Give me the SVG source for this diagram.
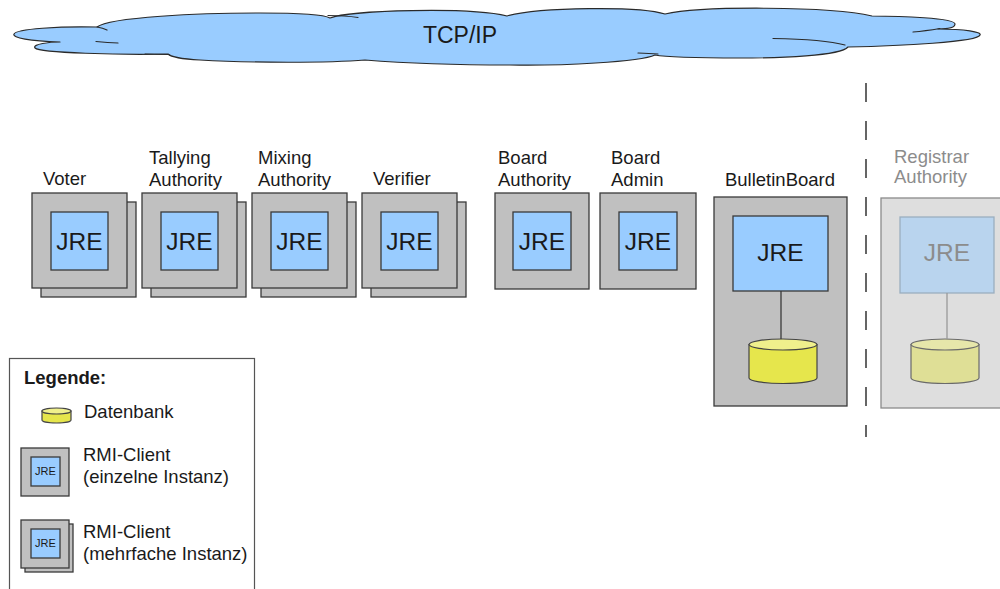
<svg xmlns="http://www.w3.org/2000/svg" width="1000" height="589" viewBox="0 0 1000 589">
  <style>
    text { font-family: "Liberation Sans", Arial, sans-serif; fill: #1a1a1a; }
    .lbl { font-size: 18.5px; }
    .jre { font-size: 24.5px; text-anchor: middle; }
    .jre-s { font-size: 11px; text-anchor: middle; }
    .host { fill: #c0c0c0; stroke: #3a3a3a; stroke-width: 1.3; }
    .vm { fill: #99ccff; stroke: #3a3a3a; stroke-width: 1.3; }
    .db-body { fill: #e6e64c; stroke: #444; stroke-width: 1.2; }
    .db-top { fill: #f0f08c; stroke: #444; stroke-width: 1.2; }
    .link { stroke: #3a3a3a; stroke-width: 1.3; fill: none; }
    .off .host { fill: #dedede; stroke: #8a8a8a; }
    .off .vm { fill: #b9d4ee; stroke: #9aaebf; }
    .off .db-body { fill: #dfdf96; stroke: #6a6a6a; }
    .off .db-top { fill: #e6e6aa; stroke: #6a6a6a; }
    .off text { fill: #8c8c8c; }
    .cloud { fill: #99ccff; stroke: #2a2a2a; stroke-width: 1.2; stroke-linejoin: round; }
    .cloud-seam { fill: none; stroke: #2a2a2a; stroke-width: 1.2; stroke-linecap: round; }
  </style>

  <!-- network cloud -->
  <g id="tcpip">
    <path class="cloud" d="M97,27
      C110,17 200,13 260,13 C300,13 325,15 330,18
      C350,10 470,7 507,16
      C540,7 640,6 665,14
      C700,6 830,6 872,16
      C900,16 955,18 955,24 C955,28 946,29 938,29
      C965,29 982,32 980,35 C978,42 900,46 848,47
      C840,56 780,58 740,58 C700,58 665,57 655,55
      C640,62 560,66 510,65 C440,65 390,62 365,60
      C330,63 250,63 200,60 C180,59 170,56 168,54
      C120,55 40,53 35,48 C32,44 50,42 60,42
      C30,41 12,38 14,34 C16,29 60,26 97,27 Z"/>
    <path class="cloud-seam" d="M97,27 Q103,28 107,30
      M96,41.5 Q108,42.5 118,43
      M145,54 Q158,54 169,54.5
      M328,15.5 Q345,15.5 358,17.5
      M913,32 Q925,31 940,28.5
      M773,38.5 C800,39 830,41 845,45
      M638,53 Q650,53.2 658,54"/>
    <text x="460" y="43" text-anchor="middle" style="font-size:23px">TCP/IP</text>
  </g>

  <!-- multi-instance clients -->
  <g id="voter">
    <rect class="host" x="41" y="202" width="95" height="95"/>
    <rect class="host" x="32" y="193" width="95" height="95"/>
    <rect class="vm" x="51" y="212" width="57" height="58"/>
    <text class="jre" x="79.5" y="250">JRE</text>
    <text class="lbl" x="43" y="185">Voter</text>
  </g>
  <g id="tallying-authority">
    <rect class="host" x="151" y="202" width="95" height="95"/>
    <rect class="host" x="142" y="193" width="95" height="95"/>
    <rect class="vm" x="161" y="212" width="57" height="58"/>
    <text class="jre" x="189.5" y="250">JRE</text>
    <text class="lbl" x="149" y="164">Tallying</text>
    <text class="lbl" x="149" y="186">Authority</text>
  </g>
  <g id="mixing-authority">
    <rect class="host" x="261" y="202" width="95" height="95"/>
    <rect class="host" x="252" y="193" width="95" height="95"/>
    <rect class="vm" x="271" y="212" width="57" height="58"/>
    <text class="jre" x="299.5" y="250">JRE</text>
    <text class="lbl" x="258" y="164">Mixing</text>
    <text class="lbl" x="258" y="186">Authority</text>
  </g>
  <g id="verifier">
    <rect class="host" x="371" y="202" width="95" height="95"/>
    <rect class="host" x="362" y="193" width="95" height="95"/>
    <rect class="vm" x="381" y="212" width="57" height="58"/>
    <text class="jre" x="409.5" y="250">JRE</text>
    <text class="lbl" x="373" y="185">Verifier</text>
  </g>

  <!-- single-instance clients -->
  <g id="board-authority">
    <rect class="host" x="495" y="193" width="94" height="96"/>
    <rect class="vm" x="513" y="212" width="58" height="58"/>
    <text class="jre" x="542" y="250">JRE</text>
    <text class="lbl" x="498" y="164">Board</text>
    <text class="lbl" x="498" y="186">Authority</text>
  </g>
  <g id="board-admin">
    <rect class="host" x="600" y="193" width="96" height="96"/>
    <rect class="vm" x="619" y="212" width="58" height="58"/>
    <text class="jre" x="648" y="250">JRE</text>
    <text class="lbl" x="611" y="164">Board</text>
    <text class="lbl" x="611" y="186">Admin</text>
  </g>

  <!-- server with database -->
  <g id="bulletin-board">
    <rect class="host" x="714" y="197" width="133" height="209"/>
    <rect class="vm" x="733" y="216" width="95" height="75"/>
    <text class="jre" x="780.5" y="261">JRE</text>
    <path class="db-body" d="M749,344.5 V378 A34,5.5 0 0 0 817,378 V344.5 Z"/>
    <ellipse class="db-top" cx="783" cy="344.5" rx="34" ry="5.5"/>
    <text class="lbl" x="780" y="186" text-anchor="middle">BulletinBoard</text>
  </g>

  <!-- separator between system and registrar -->
  <line x1="866" y1="83" x2="866" y2="437" stroke="#333" stroke-width="1.5" stroke-dasharray="19 19"/>

  <g id="registrar-authority" class="off">
    <rect class="host" x="881" y="198" width="130" height="210"/>
    <rect class="vm" x="900" y="217" width="94" height="76"/>
    <text class="jre" x="947" y="261">JRE</text>
    <path class="db-body" d="M911,344.5 V378 A34,5.5 0 0 0 979,378 V344.5 Z"/>
    <ellipse class="db-top" cx="945" cy="344.5" rx="34" ry="5.5"/>
    <text class="lbl" x="894" y="163">Registrar</text>
    <text class="lbl" x="894" y="183">Authority</text>
  </g>

  <!-- connectors -->
  <g id="connectors">
    <line class="link" x1="781" y1="291" x2="781" y2="339"/>
    <line class="link" x1="947" y1="293" x2="947" y2="339" style="stroke:#999"/>
  </g>

  <!-- legend -->
  <g id="legend">
    <rect x="9.5" y="358.5" width="245" height="240" fill="#fff" stroke="#555" stroke-width="1.2"/>
    <text x="24" y="384" style="font-size:18.5px;font-weight:bold">Legende:</text>
    <path class="db-body" d="M42,411 V420 A14.5,3 0 0 0 71,420 V411 Z"/>
    <ellipse class="db-top" cx="56.5" cy="411" rx="14.5" ry="3"/>
    <text class="lbl" x="84" y="418">Datenbank</text>

    <rect class="host" x="21" y="448" width="48" height="48"/>
    <rect class="vm" x="31" y="457" width="29" height="29"/>
    <text class="jre-s" x="45.5" y="475">JRE</text>
    <text class="lbl" x="83" y="461">RMI-Client</text>
    <text class="lbl" x="83" y="483">(einzelne Instanz)</text>

    <rect class="host" x="25" y="524" width="48" height="48"/>
    <rect class="host" x="21" y="520" width="48" height="48"/>
    <rect class="vm" x="31" y="529" width="29" height="29"/>
    <text class="jre-s" x="45.5" y="547">JRE</text>
    <text class="lbl" x="83" y="538">RMI-Client</text>
    <text class="lbl" x="83" y="560">(mehrfache Instanz)</text>
  </g>
</svg>
